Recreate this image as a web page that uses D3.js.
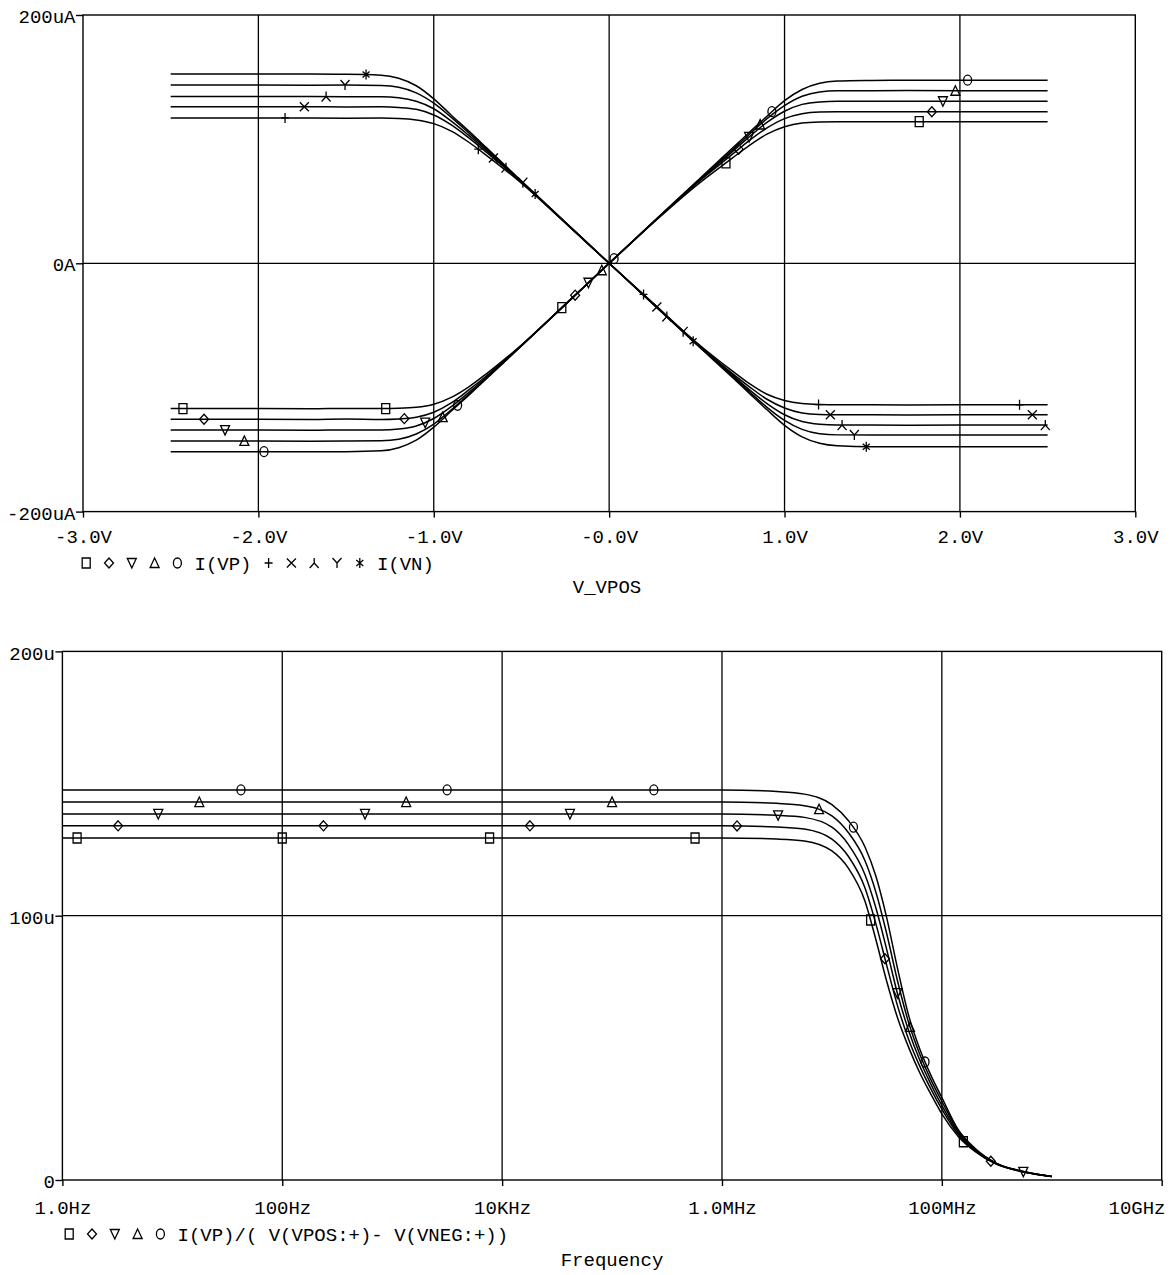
<!DOCTYPE html>
<html>
<head>
	<title>I(VP), I(VN) vs V_VPOS and transconductance vs frequency</title>
	<meta charset=utf-8>
	<script src="https://d3js.org/d3.v7.min.js"></script>
	<style type="text/css">
		body{ margin: 0; background: #fff; }
		svg{ display: block; }
		text{ font-family: "Liberation Mono", "Courier New", monospace; font-size: 19px; fill: #000; white-space: pre; }
	</style>
</head>
<body>
	<svg id="chart" width="1173" height="1275"></svg>

	<script type="text/javascript">
		// ---------- DC sweep (uA vs V_VPOS) ----------
		const dcV = [-2.5, -2.0, -1.7, -1.5, -1.3, -1.2, -1.1, -1.0, -0.9, -0.8, -0.7, -0.5, -0.25, 0,
			0.25, 0.5, 0.7, 0.8, 0.9, 1.0, 1.1, 1.2, 1.3, 1.5, 1.7, 2.0, 2.5];

		const ivp1 = [-117, -117, -117.2, -116.9, -117, -116.8, -116, -113.5, -108, -99.5, -89, -65.8, -33, 0, 32.5, 63, 84.5, 95, 104, 110, 113, 113.8, 114, 114, 114.1, 114, 114];
		const ivp2 = [-125.6, -125.6, -125.8, -125.5, -125.8, -125.4, -124, -120, -112.5, -102, -90.8, -66.1, -33.1, 0, 32.8, 64.5, 87.5, 99, 109, 116.5, 120.5, 121.8, 122, 122, 122.1, 122, 122];
		const ivp3 = [-134.3, -134.3, -134.5, -134.2, -134.2, -133.5, -131, -125, -115.5, -104, -91.8, -66.3, -33.2, 0, 32.8, 65, 89.5, 102, 113.5, 122.5, 128, 130, 130.5, 130.5, 130.6, 130.5, 130.5];
		const ivp4 = [-143.1, -143.1, -143.3, -143.2, -143, -141.8, -137.5, -129.5, -118, -105.5, -92.7, -66.4, -33.3, 0, 33, 65.5, 91, 104, 116.5, 127, 134.5, 138, 138.9, 139, 139.1, 139, 139];
		const ivp5 = [-151.7, -151.7, -151.8, -151.7, -151, -148.5, -142.5, -132, -119, -106.2, -93, -66.5, -33.3, 0, 33.2, 66, 92.5, 105.5, 118.5, 131, 140, 145, 146.8, 147.3, 147.5, 147.5, 147.5];

		const ivn1 = [117, 117.1, 117, 116.9, 117, 116.7, 115.5, 112.5, 106.5, 97.5, 87, 64.5, 32.5, 0, -32, -64, -86.5, -97, -105.5, -110.5, -113, -113.8, -114, -114, -114.1, -114, -114];
		const ivn2 = [126, 126, 126.1, 125.9, 126, 125.5, 124, 119.5, 111.5, 101, 89.5, 65.2, 32.7, 0, -32.3, -64.5, -88.5, -99.5, -109.5, -116.5, -120.5, -121.8, -122, -122, -122.1, -122, -122];
		const ivn3 = [134.3, 134.3, 134.4, 134.2, 134.1, 133.3, 130.5, 124.5, 114.5, 103, 91, 65.8, 32.9, 0, -32.5, -65, -89.5, -102, -113, -122, -127.5, -129.7, -130.3, -130.3, -130.4, -130.3, -130.3];
		const ivn4 = [143.6, 143.6, 143.5, 143.6, 143.2, 141.8, 137.3, 129, 117.5, 105, 92.2, 66, 33, 0, -32.7, -65.3, -90.5, -103.5, -116, -126.5, -133.8, -137.3, -138.2, -138.3, -138.3, -138.3, -138.3];
		const ivn5 = [152.4, 152.5, 152.4, 152.3, 151.5, 149, 143, 132.5, 119.3, 106.5, 93.2, 66.3, 33.1, 0, -32.9, -65.6, -91.5, -104.8, -118, -130.5, -139.8, -145, -147, -147.7, -147.7, -147.7, -147.7];

		// where the markers sit on each trace (V)
		const mkVp1 = [-2.43, -1.274, -0.27, 0.666, 1.768];
		const mkVp2 = [-2.31, -1.168, -0.194, 0.738, 1.84];
		const mkVp3 = [-2.19, -1.049, -0.118, 0.798, 1.903];
		const mkVp4 = [-2.08, -0.949, -0.042, 0.861, 1.974];
		const mkVp5 = [-1.968, -0.864, 0.028, 0.928, 2.044];
		const mkVn1 = [-1.848, -0.746, 0.196, 1.194, 2.34];
		const mkVn2 = [-1.738, -0.66, 0.272, 1.261, 2.413];
		const mkVn3 = [-1.614, -0.588, 0.329, 1.328, 2.487];
		const mkVn4 = [-1.506, -0.492, 0.422, 1.398];
		const mkVn5 = [-1.386, -0.422, 0.479, 1.466];

		const dcXTicks = [-3, -2, -1, 0, 1, 2, 3];
		const dcXLabels = ['-3.0V', '-2.0V', '-1.0V', '-0.0V', '1.0V', '2.0V', '3.0V'];
		const dcYTicks = [-200, 0, 200];
		const dcYLabels = ['-200uA', '0A', '200uA'];

		// ---------- AC sweep (u vs Frequency) ----------
		const acF = [1, 10, 100, 1e3, 1e4, 1e5, 1e6, 3.16e6, 5.62e6, 1e7, 1.41e7, 2e7, 2.51e7, 3.16e7, 3.98e7,
			5.01e7, 6.31e7, 7.94e7, 1e8, 1.41e8, 2e8, 3.16e8, 5.01e8, 7.08e8, 1e9];

		const gm1 = [129.4, 129.4, 129.4, 129.4, 129.4, 129.4, 129.4, 129, 128.3, 124.5, 118, 105.5, 91, 75, 61, 50, 40.5, 32.5, 25, 16.5, 10.8, 5.9, 3.4, 2.2, 1.35];
		const gm2 = [134, 134, 134, 134, 134, 134, 134, 133.6, 132.8, 129, 122.5, 110.5, 97, 81, 65.5, 53, 43, 34.5, 26.8, 17.2, 11.1, 6, 3.5, 2.25, 1.35];
		const gm3 = [138.5, 138.5, 138.5, 138.5, 138.5, 138.5, 138.5, 138, 137.2, 133.5, 127, 115.5, 103, 87, 70, 56.3, 45.3, 36.3, 28.2, 17.8, 11.4, 6.1, 3.5, 2.25, 1.35];
		const gm4 = [143, 143, 143, 143, 143, 143, 143, 142.5, 141.6, 137.8, 131.5, 120.8, 109, 93, 74.8, 59.3, 47.5, 38, 29.8, 18.4, 11.7, 6.2, 3.6, 2.3, 1.35];
		const gm5 = [147.6, 147.6, 147.6, 147.6, 147.6, 147.6, 147.6, 147, 146, 142, 136, 126, 115, 99, 79.5, 62, 49.5, 39.7, 31.2, 19, 12, 6.3, 3.6, 2.3, 1.35];

		const mkF1 = [1.36, 100, 7.69e3, 5.69e5, 2.25e7, 1.57e8];
		const mkF2 = [3.21, 237, 1.79e4, 1.37e6, 3.04e7, 2.79e8];
		const mkF3 = [7.45, 566, 4.14e4, 3.24e6, 3.94e7, 5.51e8];
		const mkF4 = [17.6, 1.34e3, 1.0e5, 7.64e6, 5.13e7];
		const mkF5 = [42.1, 3.16e3, 2.4e5, 1.57e7, 7.03e7];

		const acXTicks = [1, 100, 1e4, 1e6, 1e8, 1e10];
		const acXLabels = ['1.0Hz', '100Hz', '10KHz', '1.0MHz', '100MHz', '10GHz'];
		const acYTicks = [0, 100, 200];
		const acYLabels = ['0', '100u', '200u'];

		////////////////////////////////////////////////////////////

		const svg = d3.select('#chart');
		svg.append('rect').attr('width', 1173).attr('height', 1275).attr('fill', '#fff');

		const cw = 11.4; // one character of the mono font
		const pageRight = 1165;

		// marker glyphs, drawn round (x, y)
		function symbol(type, x, y){
			switch(type){
				case 'square': return `M${x-4},${y-5}h8v10h-8Z`;
				case 'diamond': return `M${x},${y-5}L${x+4.5},${y}L${x},${y+5}L${x-4.5},${y}Z`;
				case 'tdown': return `M${x-4.5},${y-4.5}L${x+4.5},${y-4.5}L${x},${y+5}Z`;
				case 'tup': return `M${x},${y-5}L${x+4.5},${y+4.5}L${x-4.5},${y+4.5}Z`;
				case 'circle': return `M${x-4},${y}a4,5 0 1,0 8,0a4,5 0 1,0 -8,0Z`;
				case 'plus': return `M${x},${y-5}V${y+5}M${x-4},${y}H${x+4}`;
				case 'cross': return `M${x-4.5},${y-4.5}L${x+4.5},${y+4.5}M${x+4.5},${y-4.5}L${x-4.5},${y+4.5}`;
				case 'lambda': return `M${x},${y-5}V${y}M${x-4.5},${y+5}L${x},${y}L${x+4.5},${y+5}`;
				case 'wye': return `M${x-4.5},${y-5}L${x},${y}L${x+4.5},${y-5}M${x},${y}V${y+5}`;
				case 'star': return `M${x},${y-5}V${y+5}M${x-3.5},${y-3}L${x+3.5},${y+3}M${x+3.5},${y-3}L${x-3.5},${y+3}`;
			}
		}

		// y of a drawn path at a given screen x
		function yOnPath(node, px){
			let lo = 0, hi = node.getTotalLength();
			for(let k = 0; k < 40; k++){
				const mid = (lo + hi) / 2;
				if(node.getPointAtLength(mid).x < px) lo = mid; else hi = mid;
			}
			return node.getPointAtLength((lo + hi) / 2).y;
		}

		function panel(x, y, xTicks, xLabels, yTicks, yLabels, xGrid, yGrid, labelY){
			const [x0, x1] = x.range();
			const [y1, y0] = y.range();
			const g = svg.append('g');

			g.selectAll('.vgrid')
				.data(xGrid)
				.enter()
				.append('line')
				.attr('x1', d => x(d)).attr('x2', d => x(d))
				.attr('y1', y0).attr('y2', y1)
				.attr('stroke', '#000').attr('stroke-width', 1.3);

			g.selectAll('.hgrid')
				.data(yGrid)
				.enter()
				.append('line')
				.attr('x1', x0).attr('x2', x1)
				.attr('y1', d => y(d)).attr('y2', d => y(d))
				.attr('stroke', '#000').attr('stroke-width', 1.3);

			g.append('rect')
				.attr('x', x0).attr('y', y0)
				.attr('width', x1 - x0).attr('height', y1 - y0)
				.attr('fill', 'none').attr('stroke', '#000').attr('stroke-width', 1.4);

			g.append('g')
				.attr('transform', `translate(0,${y1})`)
				.call(d3.axisBottom(x).tickValues(xTicks).tickFormat((d, i) => xLabels[i]).tickSize(6).tickSizeOuter(0))
				.call(a => a.attr('font-family', null).attr('font-size', null))
				.call(a => a.select('.domain').remove())
				.call(a => a.selectAll('line').attr('stroke-width', 1.4))
				.call(a => a.selectAll('text').attr('dy', null).attr('y', labelY))
				// a label that would run off the page is pulled back inside it
				.call(a => a.selectAll('.tick').each(function(d){
					const t = d3.select(this).select('text');
					const w = t.node().getComputedTextLength();
					const over = x(d) + w / 2 - pageRight;
					if(over > 0) t.attr('x', -over);
				}));

			g.append('g')
				.attr('transform', `translate(${x0},0)`)
				.call(d3.axisLeft(y).tickValues(yTicks).tickFormat((d, i) => yLabels[i]).tickSize(7).tickPadding(0.5).tickSizeOuter(0))
				.call(a => a.attr('font-family', null).attr('font-size', null))
				.call(a => a.select('.domain').remove())
				.call(a => a.selectAll('line').attr('stroke-width', 1.4))
				.call(a => a.selectAll('text').attr('dy', '0.4em'));
		}

		function traces(line, x, data){
			const g = svg.append('g');
			data.forEach(s => {
				const path = g.append('path')
					.attr('d', line(s.pts))
					.attr('fill', 'none')
					.attr('stroke', '#000')
					.attr('stroke-width', 1.5);
				const node = path.node();
				g.selectAll(null)
					.data(s.marks)
					.enter()
					.append('path')
					.attr('d', m => { const px = x(m); return symbol(s.sym, px, yOnPath(node, px)); })
					.attr('fill', 'none')
					.attr('stroke', '#000')
					.attr('stroke-width', 1.3);
			});
		}

		function legend(x0, base, items){
			const g = svg.append('g');
			items.forEach(it => {
				const cx = x0 + it.cell * cw;
				if(it.sym){
					g.append('path')
						.attr('d', symbol(it.sym, cx + cw / 2, base - 6.5))
						.attr('fill', 'none').attr('stroke', '#000').attr('stroke-width', 1.3);
				} else {
					g.append('text').attr('x', cx).attr('y', base).text(it.text);
				}
			});
		}

		////////////////////////////////////////////////////////////
		// top: DC currents
		const xDC = d3.scaleLinear().domain([-3, 3]).range([83, 1135.3]);
		const yDC = d3.scaleLinear().domain([-200, 200]).range([511.6, 15]);

		panel(xDC, yDC, dcXTicks, dcXLabels, dcYTicks, dcYLabels, [-2, -1, 0, 1, 2], [0], 31.7);

		const lineDC = d3.line()
			.x(d => xDC(d[0]))
			.y(d => yDC(d[1]))
			.curve(d3.curveMonotoneX);

		traces(lineDC, xDC, [
			{pts: d3.zip(dcV, ivp1), sym: 'square', marks: mkVp1},
			{pts: d3.zip(dcV, ivp2), sym: 'diamond', marks: mkVp2},
			{pts: d3.zip(dcV, ivp3), sym: 'tdown', marks: mkVp3},
			{pts: d3.zip(dcV, ivp4), sym: 'tup', marks: mkVp4},
			{pts: d3.zip(dcV, ivp5), sym: 'circle', marks: mkVp5},
			{pts: d3.zip(dcV, ivn1), sym: 'plus', marks: mkVn1},
			{pts: d3.zip(dcV, ivn2), sym: 'cross', marks: mkVn2},
			{pts: d3.zip(dcV, ivn3), sym: 'lambda', marks: mkVn3},
			{pts: d3.zip(dcV, ivn4), sym: 'wye', marks: mkVn4},
			{pts: d3.zip(dcV, ivn5), sym: 'star', marks: mkVn5}
		]);

		legend(80.5, 569.5, [
			{cell: 0, sym: 'square'}, {cell: 2, sym: 'diamond'}, {cell: 4, sym: 'tdown'},
			{cell: 6, sym: 'tup'}, {cell: 8, sym: 'circle'}, {cell: 10, text: 'I(VP)'},
			{cell: 16, sym: 'plus'}, {cell: 18, sym: 'cross'}, {cell: 20, sym: 'lambda'},
			{cell: 22, sym: 'wye'}, {cell: 24, sym: 'star'}, {cell: 26, text: 'I(VN)'}
		]);

		svg.append('text')
			.attr('x', 607).attr('y', 592.5)
			.attr('text-anchor', 'middle')
			.text('V_VPOS');

		////////////////////////////////////////////////////////////
		// bottom: I(VP) / input voltage vs frequency
		const xAC = d3.scaleLog().domain([1, 1e10]).range([62.4, 1161.7]);
		const yAC = d3.scaleLinear().domain([0, 200]).range([1180, 651.4]);

		panel(xAC, yAC, acXTicks, acXLabels, acYTicks, acYLabels, [100, 1e4, 1e6, 1e8], [100], 34.3);

		const lineAC = d3.line()
			.x(d => xAC(d[0]))
			.y(d => yAC(d[1]))
			.curve(d3.curveMonotoneX);

		traces(lineAC, xAC, [
			{pts: d3.zip(acF, gm1), sym: 'square', marks: mkF1},
			{pts: d3.zip(acF, gm2), sym: 'diamond', marks: mkF2},
			{pts: d3.zip(acF, gm3), sym: 'tdown', marks: mkF3},
			{pts: d3.zip(acF, gm4), sym: 'tup', marks: mkF4},
			{pts: d3.zip(acF, gm5), sym: 'circle', marks: mkF5}
		]);

		legend(63.5, 1240.5, [
			{cell: 0, sym: 'square'}, {cell: 2, sym: 'diamond'}, {cell: 4, sym: 'tdown'},
			{cell: 6, sym: 'tup'}, {cell: 8, sym: 'circle'},
			{cell: 10, text: 'I(VP)/( V(VPOS:+)- V(VNEG:+))'}
		]);

		svg.append('text')
			.attr('x', 612).attr('y', 1265.5)
			.attr('text-anchor', 'middle')
			.text('Frequency');
	</script>
</body>
</html>
